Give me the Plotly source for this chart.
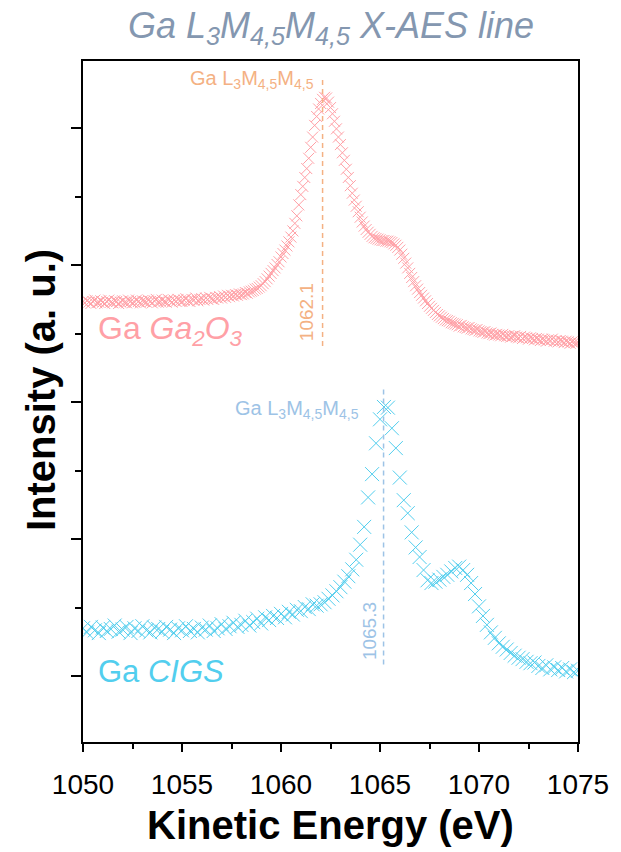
import numpy as np
import plotly.graph_objects as go

# ---------------- data ----------------
ga2o3_energy_start, ga2o3_energy_step = 1050.0, 0.1
ga2o3_intensity = [
    5.47, 5.45, 5.48, 5.46, 5.44, 5.47, 5.49, 5.45, 5.46, 5.48,
    5.46, 5.44, 5.47, 5.49, 5.46, 5.45, 5.48, 5.47, 5.44, 5.46,
    5.48, 5.46, 5.45, 5.49, 5.47, 5.45, 5.46, 5.49, 5.47, 5.45,
    5.48, 5.47, 5.46, 5.49, 5.47, 5.45, 5.48, 5.50, 5.46, 5.47,
    5.49, 5.47, 5.46, 5.50, 5.48, 5.46, 5.49, 5.47, 5.50, 5.48,
    5.47, 5.49, 5.51, 5.48, 5.47, 5.50, 5.49, 5.52, 5.48, 5.50,
    5.51, 5.49, 5.52, 5.50, 5.53, 5.51, 5.50, 5.53, 5.52, 5.54,
    5.52, 5.55, 5.53, 5.56, 5.54, 5.56, 5.55, 5.57, 5.56, 5.58,
    5.57, 5.58, 5.60, 5.59, 5.61, 5.62, 5.63, 5.65, 5.66, 5.68,
    5.70, 5.73, 5.76, 5.80, 5.84, 5.88, 5.92, 5.96, 6.01, 6.05,
    6.12, 6.17, 6.22, 6.28, 6.34, 6.41, 6.50, 6.61, 6.72, 6.88,
    7.03, 7.15, 7.28, 7.41, 7.56, 7.72, 7.87, 8.04, 8.17, 8.28,
    8.36, 8.42, 8.45, 8.44, 8.38, 8.30, 8.21, 8.10, 7.99, 7.87,
    7.76, 7.64, 7.53, 7.40, 7.28, 7.16, 7.05, 6.95, 6.86, 6.78,
    6.70, 6.63, 6.57, 6.52, 6.48, 6.45, 6.42, 6.40, 6.39, 6.38,
    6.37, 6.36, 6.36, 6.35, 6.35, 6.34, 6.33, 6.31, 6.29, 6.26,
    6.22, 6.16, 6.10, 6.03, 5.96, 5.88, 5.82, 5.76, 5.70, 5.65,
    5.60, 5.56, 5.52, 5.48, 5.44, 5.40, 5.37, 5.34, 5.31, 5.28,
    5.26, 5.24, 5.22, 5.20, 5.19, 5.18, 5.16, 5.15, 5.14, 5.13,
    5.11, 5.12, 5.10, 5.09, 5.08, 5.09, 5.07, 5.06, 5.05, 5.06,
    5.04, 5.03, 5.02, 5.03, 5.01, 5.00, 5.01, 4.99, 4.98, 4.99,
    4.98, 4.97, 4.99, 4.97, 4.96, 4.97, 4.95, 4.96, 4.97, 4.95,
    4.94, 4.96, 4.93, 4.95, 4.94, 4.92, 4.94, 4.93, 4.91, 4.93,
    4.92, 4.90, 4.92, 4.91, 4.89, 4.91, 4.90, 4.92, 4.89, 4.90,
    4.88, 4.90, 4.89, 4.87, 4.89, 4.88, 4.86, 4.88, 4.87, 4.86,
    4.87,
]

cigs_energy_start, cigs_energy_step = 1050.0, 0.2
cigs_intensity = [
    0.70, 0.64, 0.72, 0.67, 0.63,
    0.71, 0.66, 0.69, 0.74, 0.65,
    0.68, 0.72, 0.63, 0.70, 0.66,
    0.73, 0.67, 0.64, 0.71, 0.69,
    0.65, 0.72, 0.68, 0.63, 0.70,
    0.67, 0.73, 0.66, 0.69, 0.64,
    0.71, 0.68, 0.74, 0.66, 0.70,
    0.76, 0.69, 0.73, 0.78, 0.72,
    0.75, 0.81, 0.74, 0.79, 0.84,
    0.77, 0.86, 0.82, 0.88, 0.85,
    0.91, 0.86, 0.94, 0.90, 0.97,
    0.95, 1.01, 0.98, 1.05, 1.03,
    1.05, 1.08, 1.13, 1.18, 1.24,
    1.30, 1.38, 1.46, 1.56, 1.70,
    1.92, 2.18, 2.61, 2.95, 3.40,
    3.75, 3.93, 3.92, 3.62, 3.33,
    2.90, 2.57, 2.38, 2.10, 1.88,
    1.74, 1.55, 1.40, 1.36, 1.38,
    1.41, 1.45, 1.48, 1.53, 1.58,
    1.60, 1.55, 1.48, 1.36, 1.20,
    1.02, 0.88, 0.75, 0.64, 0.56,
    0.48, 0.43, 0.39, 0.34, 0.30,
    0.27, 0.25, 0.21, 0.19, 0.20,
    0.15, 0.12, 0.16, 0.10, 0.13,
    0.09, 0.12, 0.07, 0.10, 0.06,
    0.08,
]

x_ticks = [1050, 1055, 1060, 1065, 1070, 1075]
x_tick_labels = ["1050", "1055", "1060", "1065", "1070", "1075"]

peak_ga2o3 = 1062.1
peak_cigs = 1065.3
peak_ga2o3_label = "1062.1"
peak_cigs_label = "1065.3"
auger_label = "Ga L<sub>3</sub>M<sub>4,5</sub>M<sub>4,5</sub>"

# ---------------- styling ----------------
PINK = "#FFA0A6"
CYAN = "#52CEEE"
ORANGE = "#F4B183"
LBLUE = "#9DC3E6"
TITLE_C = "#8497B0"
FONT = "Liberation Sans, Arial, sans-serif"

# page body has an 8px margin; compensate so the plot area sits at
# x 83..583 and y 61..746 in the window
W, H = 613, 844
L, R, T, B = 75, 38, 53, 106

x_g = ga2o3_energy_start + ga2o3_energy_step * np.arange(len(ga2o3_intensity))
x_c = cigs_energy_start + cigs_energy_step * np.arange(len(cigs_intensity))

fig = go.Figure()
fig.add_trace(go.Scatter(
    x=x_g, y=ga2o3_intensity, mode="markers",
    marker=dict(symbol="x-thin", size=11, line=dict(width=1, color=PINK), color=PINK),
    showlegend=False))
fig.add_trace(go.Scatter(
    x=x_c, y=cigs_intensity, mode="markers",
    marker=dict(symbol="x-thin", size=14, line=dict(width=1, color=CYAN), color=CYAN),
    showlegend=False))

# dashed peak lines
fig.add_shape(type="line", xref="x", yref="y", x0=peak_ga2o3, x1=peak_ga2o3,
              y0=4.82, y1=8.74, line=dict(color=ORANGE, width=1.5, dash="5px,4px"))
fig.add_shape(type="line", xref="x", yref="y", x0=peak_cigs - 0.12, x1=peak_cigs - 0.12,
              y0=0.17, y1=4.21, line=dict(color=LBLUE, width=1.5, dash="5px,4px"))

ann = []
ann.append(dict(x=peak_ga2o3 - 0.35, y=8.71, xref="x", yref="y", text=auger_label,
                showarrow=False, xanchor="right", yanchor="middle",
                font=dict(family=FONT, size=20, color=ORANGE)))
ann.append(dict(x=peak_ga2o3 - 0.8, y=5.31, xref="x", yref="y", text=peak_ga2o3_label,
                showarrow=False, textangle=-90, xanchor="center", yanchor="middle",
                font=dict(family=FONT, size=19, color=ORANGE)))
ann.append(dict(x=peak_cigs - 1.25, y=3.89, xref="x", yref="y", text=auger_label,
                showarrow=False, xanchor="right", yanchor="middle",
                font=dict(family=FONT, size=20, color=LBLUE)))
ann.append(dict(x=peak_cigs - 0.85, y=0.66, xref="x", yref="y", text=peak_cigs_label,
                showarrow=False, textangle=-90, xanchor="center", yanchor="middle",
                font=dict(family=FONT, size=19, color=LBLUE)))
ann.append(dict(x=1050.65, y=5.05, xref="x", yref="y",
                text="Ga <i>Ga<sub>2</sub>O<sub>3</sub></i>",
                showarrow=False, xanchor="left", yanchor="middle",
                font=dict(family=FONT, size=32, color=PINK)))
ann.append(dict(x=1050.65, y=0.07, xref="x", yref="y", text="Ga <i>CIGS</i>",
                showarrow=False, xanchor="left", yanchor="middle",
                font=dict(family=FONT, size=31, color=CYAN)))
# y-axis title as annotation for precise placement
ann.append(dict(x=0, y=(746 - 392) / 685, xref="paper", yref="paper",
                xshift=-42, text="<b>Intensity (a. u.)</b>", textangle=-90,
                showarrow=False, xanchor="center", yanchor="middle",
                font=dict(family=FONT, size=40, color="black")))

axis_common = dict(showline=True, linecolor="black", linewidth=2, mirror=True,
                   ticks="outside", tickcolor="black", tickwidth=1.5,
                   showgrid=False, zeroline=False)

fig.update_layout(
    width=W, height=H,
    margin=dict(l=L, r=R, t=T, b=B),
    paper_bgcolor="white", plot_bgcolor="white",
    font=dict(family=FONT, color="black"),
    title=dict(text="<i>Ga L<sub>3</sub>M<sub>4,5</sub>M<sub>4,5</sub> X-AES line</i>",
               x=(L + 248) / W, xanchor="center",
               y=1 - 17 / H, yanchor="middle", yref="container",
               font=dict(family=FONT, size=36, color=TITLE_C)),
    xaxis=dict(range=[1050, 1075], tickvals=x_ticks, ticktext=x_tick_labels,
               ticklen=8, ticklabelstandoff=8,
               tickfont=dict(family=FONT, size=28, color="black"),
               minor=dict(dtick=2.5, tick0=1050, ticklen=5, ticks="outside",
                          tickcolor="black", tickwidth=1.5),
               title=dict(text="<b>Kinetic Energy (eV)</b>", standoff=12,
                          font=dict(family=FONT, size=40, color="black")),
               **axis_common),
    yaxis=dict(range=[-0.96, 8.98], tick0=0, dtick=2, showticklabels=False,
               ticklen=10,
               minor=dict(dtick=1, tick0=0, ticklen=6, ticks="outside",
                          tickcolor="black", tickwidth=1.5),
               **axis_common),
    annotations=ann,
)

fig.write_html("out.html")
